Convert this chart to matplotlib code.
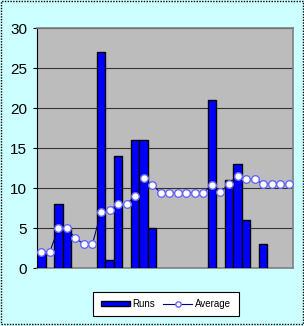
import matplotlib.pyplot as plt
from matplotlib.patches import Rectangle

# innings 1..30, 0 = no bar drawn
innings = list(range(30))
runs = [2, 0, 8, 5, 0, 0, 0, 27, 1, 14, 0, 16, 16, 5, 0, 0, 0, 0, 0, 0,
        21, 0, 11, 13, 6, 0, 3, 0, 0, 0]
average = [2, 2, 5, 5, 3.7, 3, 3, 7, 7.2, 8, 8, 9, 11.2, 10.4, 9.4, 9.4, 9.4, 9.4,
           9.4, 9.4, 10.4, 9.5, 10.5, 11.5, 11.1, 11.1, 10.5, 10.5, 10.5, 10.5]
yticks = [0, 5, 10, 15, 20, 25, 30]

fig = plt.figure(figsize=(3.04, 3.26), dpi=100, facecolor="#ccffff")
ax = fig.add_axes([37/304, 1 - 268/326, 256/304, 240/326])
ax.set_facecolor("#bcbcbc")

bx = [i for i, r in zip(innings, runs) if r > 0]
by = [r for r in runs if r > 0]
bars = ax.bar(bx, by, width=1.0, color="#0000ff", edgecolor="black",
              linewidth=1, label="Runs", zorder=3)
line, = ax.plot(innings, average, color="#000080", linewidth=0.8, marker="o",
                markersize=5.5, markerfacecolor="white", markeredgecolor="#6666ff",
                markeredgewidth=1, label="Average", zorder=4)

ax.set_xlim(-0.5, 29.5)
ax.set_ylim(0, 30)
ax.set_yticks(yticks)
ax.set_xticks([])
ax.tick_params(axis="y", length=3, labelsize=11, pad=4, direction="out")
for lab in ax.get_yticklabels():
    lab.set_family("Liberation Sans")
ax.yaxis.grid(True, color="#333333", linewidth=0.8)
ax.set_axisbelow(True)

ax.spines["left"].set_color("black")
ax.spines["left"].set_linewidth(0.8)
for s in ["top", "right", "bottom"]:
    ax.spines[s].set_color("#808080")
    ax.spines[s].set_linewidth(1.2)

leg = fig.legend([bars, line], ["Runs", "Average"], loc="center",
                 bbox_to_anchor=(166/304, 1 - 304/326), ncol=2,
                 frameon=True, fancybox=False, edgecolor="black",
                 facecolor="white", framealpha=1,
                 prop={"family": "Liberation Sans", "size": 7},
                 handlelength=3.0, handleheight=0.5, handletextpad=0.3,
                 columnspacing=0.8, borderpad=0.75, borderaxespad=0,
                 markerscale=0.7)
leg.get_frame().set_linewidth(0.8)

# dotted outer border
fig.patches.append(Rectangle((0.003, 0.006), 0.994, 0.99, transform=fig.transFigure,
                             fill=False, edgecolor="black", linestyle=(0, (1, 1)),
                             linewidth=1))

fig.savefig("out.png", dpi=100, facecolor=fig.get_facecolor())
